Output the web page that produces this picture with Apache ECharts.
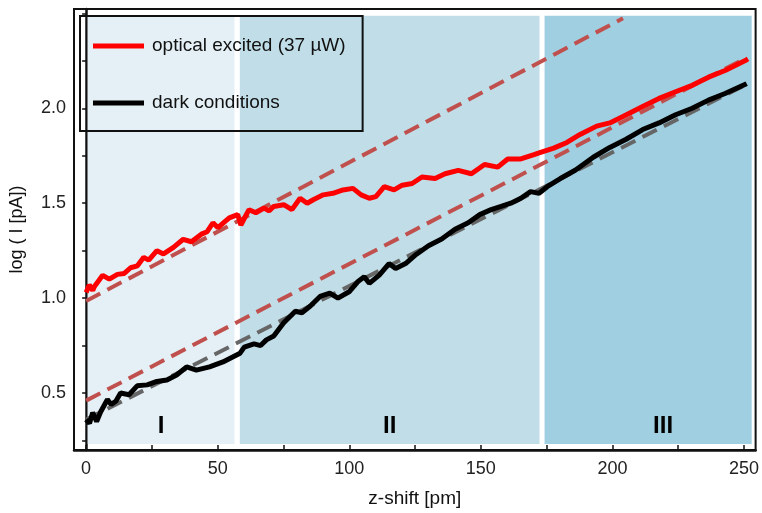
<!DOCTYPE html>
<html>
<head>
<meta charset="utf-8">
<script src="https://cdn.jsdelivr.net/npm/echarts@6/dist/echarts.min.js"></script>
<style>
  html, body { margin: 0; padding: 0; background: #fff; }
  #chart { width: 762px; height: 513px; }
</style>
</head>
<body>
<div id="chart"></div>
<script>
// Tunnelling current vs. z-shift, under illumination and in the dark
const opticalX = [0, 1.2, 2.5, 3.1, 6.3, 8.8, 11.9, 14.5, 16.9, 19.5, 21.9, 23.8, 26.9, 29.4, 33.2, 36.9, 40.0, 43.8, 46.0, 48.2, 50.1, 52.5, 54.4, 57.6, 58.8, 60.5, 61.9, 64.5, 67.6, 69.5, 71.3, 75.1, 78.2, 81.3, 84.0, 86.3, 90.1, 93.8, 97.6, 101.4, 104.5, 107.6, 110.1, 113.3, 117.0, 120.1, 123.9, 127.6, 132.6, 136.4, 141.4, 146.4, 151.4, 156.4, 160.2, 165.2, 170.2, 172.7, 177.7, 182.7, 187.7, 194.0, 199.0, 204.0, 211.5, 217.7, 224.0, 230.3, 236.5, 242.8, 250.3, 251.5];
const opticalY = [1.03, 1.07, 1.04, 1.06, 1.12, 1.10, 1.125, 1.13, 1.16, 1.17, 1.215, 1.20, 1.25, 1.233, 1.267, 1.31, 1.297, 1.337, 1.35, 1.397, 1.371, 1.40, 1.423, 1.44, 1.385, 1.43, 1.466, 1.45, 1.474, 1.46, 1.483, 1.492, 1.466, 1.526, 1.50, 1.518, 1.544, 1.552, 1.57, 1.578, 1.544, 1.526, 1.535, 1.587, 1.57, 1.595, 1.604, 1.638, 1.63, 1.655, 1.673, 1.655, 1.704, 1.69, 1.733, 1.733, 1.756, 1.768, 1.79, 1.82, 1.862, 1.906, 1.923, 1.957, 2.009, 2.052, 2.087, 2.121, 2.164, 2.199, 2.25, 2.26];

const darkX = [0, 1.3, 2.5, 4.0, 5.5, 8.1, 9.5, 11.3, 13.1, 16.3, 19.4, 23.2, 26.9, 30.7, 34.4, 38.2, 41.9, 46.9, 52.0, 55.7, 58.5, 60.1, 63.8, 66.3, 68.5, 71.3, 75.1, 79.5, 82.0, 85.1, 88.9, 92.6, 95.7, 100.1, 103.2, 105.7, 107.6, 111.4, 115.1, 117.6, 121.4, 125.4, 130.1, 135.1, 140.2, 145.2, 149.6, 153.9, 157.7, 161.4, 165.2, 168.9, 172.1, 175.2, 180.2, 186.0, 192.7, 199.0, 205.2, 211.5, 217.7, 224.0, 230.3, 236.5, 242.8, 250.3, 251.0];
const darkY = [0.36, 0.34, 0.397, 0.35, 0.40, 0.466, 0.44, 0.457, 0.50, 0.491, 0.538, 0.543, 0.561, 0.569, 0.595, 0.638, 0.621, 0.638, 0.664, 0.69, 0.71, 0.742, 0.759, 0.75, 0.78, 0.80, 0.87, 0.931, 0.923, 0.957, 1.009, 1.026, 1.0, 1.035, 1.086, 1.112, 1.078, 1.121, 1.182, 1.156, 1.182, 1.23, 1.276, 1.311, 1.363, 1.397, 1.44, 1.466, 1.483, 1.50, 1.526, 1.561, 1.552, 1.587, 1.63, 1.675, 1.742, 1.794, 1.837, 1.888, 1.923, 1.966, 2.0, 2.043, 2.078, 2.125, 2.13];

// Linear guides (dashed)
const upperFitX = [0, 204];
const upperFitY = [0.985, 2.474];
const lowerFitX = [0, 250];
const lowerFitY = [0.46, 2.26];
const darkFitX = [0, 250];
const darkFitY = [0.36, 2.12];

// Regimes I-III along z
const regionLabels = ['I', 'II', 'III'];
const regionStart = [0.6, 58.4, 174.2];
const regionEnd = [56.4, 172.3, 252.9];
const regionColors = ['#e4f0f5', '#c1dee8', '#9fcfe0'];

const xTickLabels = [0, 50, 100, 150, 200, 250];
const xTicks = [0, 25, 50, 75, 100, 125, 150, 175, 200, 225, 250];
const yTickLabels = [0.5, 1.0, 1.5, 2.0];
const yTicks = [0.25, 0.5, 0.75, 1.0, 1.25, 1.5, 1.75, 2.0, 2.25, 2.5];

const legendNames = ['optical excited (37 \u00b5W)', 'dark conditions'];

const pairs = (xs, ys) => xs.map((x, i) => [x, ys[i]]);
const FONT = '"Liberation Sans", Arial, sans-serif';

const chart = echarts.init(document.getElementById('chart'), null, { renderer: 'canvas' });

chart.setOption({
  animation: false,
  backgroundColor: '#ffffff',
  textStyle: { fontFamily: FONT },
  grid: {
    left: 71, right: 3, top: 9, bottom: 55,
    show: true, borderColor: '#111', borderWidth: 2, backgroundColor: 'transparent'
  },
  legend: {
    data: legendNames,
    orient: 'vertical',
    left: 80, top: 16,
    padding: [20, 17, 18, 13],
    itemGap: 37,
    itemWidth: 51,
    itemHeight: 5,
    icon: 'rect',
    selectedMode: false,
    borderColor: '#111',
    borderWidth: 2,
    textStyle: { fontFamily: FONT, fontSize: 19, color: '#111', lineHeight: 20, padding: [0, 0, 0, 3] }
  },
  xAxis: {
    type: 'value',
    min: -4.6, max: 254.4,
    name: 'z-shift [pm]',
    nameLocation: 'middle',
    nameGap: 39,
    nameTextStyle: { fontFamily: FONT, fontSize: 19, color: '#111' },
    axisLine: { show: true, lineStyle: { color: '#111', width: 2.5 } },
    axisTick: { show: true, inside: true, length: 5, customValues: xTicks, lineStyle: { color: '#111', width: 1.5 } },
    axisLabel: { customValues: xTickLabels, fontFamily: FONT, fontSize: 18, color: '#222', margin: 10 },
    splitLine: { show: false }
  },
  yAxis: {
    type: 'value',
    min: 0.2, max: 2.523,
    name: 'log ( I [pA])',
    nameLocation: 'middle',
    nameGap: 48,
    nameTextStyle: { fontFamily: FONT, fontSize: 18, color: '#111' },
    axisLine: { show: true, lineStyle: { color: '#111', width: 2.5 } },
    axisTick: { show: true, inside: false, length: 4, customValues: yTicks, lineStyle: { color: '#111', width: 1.5 } },
    axisLabel: { customValues: yTickLabels, fontFamily: FONT, fontSize: 18, color: '#222', margin: 8,
      formatter: v => Number(v).toFixed(1) },
    splitLine: { show: false }
  },
  series: [
    {
      // shaded regimes
      type: 'line',
      z: 1,
      data: [],
      silent: true,
      markArea: {
        silent: true,
        data: regionLabels.map((lab, i) => [
          {
            name: lab,
            xAxis: regionStart[i], yAxis: 0.231,
            itemStyle: { color: regionColors[i] },
            label: {
              show: true, position: 'insideBottom', distance: 6,
              offset: i === 2 ? [15, 0] : [0, 0],
              fontFamily: FONT, fontSize: 24, fontWeight: 'bold', color: '#000'
            }
          },
          { xAxis: regionEnd[i], yAxis: 2.487 }
        ])
      }
    },
    {
      type: 'line', z: 2, symbol: 'none', silent: true,
      data: pairs(darkFitX, darkFitY),
      lineStyle: { color: '#666666', width: 4, type: [16, 8] }
    },
    {
      type: 'line', z: 2, symbol: 'none', silent: true,
      data: pairs(lowerFitX, lowerFitY),
      lineStyle: { color: '#c0504d', width: 4, type: [16, 8] }
    },
    {
      type: 'line', z: 2, symbol: 'none', silent: true,
      data: pairs(upperFitX, upperFitY),
      lineStyle: { color: '#c0504d', width: 4, type: [16, 8] }
    },
    {
      name: legendNames[0],
      type: 'line', z: 3, symbol: 'none',
      data: pairs(opticalX, opticalY),
      itemStyle: { color: '#ff0000' },
      lineStyle: { color: '#ff0000', width: 5 }
    },
    {
      name: legendNames[1],
      type: 'line', z: 3, symbol: 'none',
      data: pairs(darkX, darkY),
      itemStyle: { color: '#000000' },
      lineStyle: { color: '#000000', width: 5 }
    }
  ]
});
</script>
</body>
</html>
